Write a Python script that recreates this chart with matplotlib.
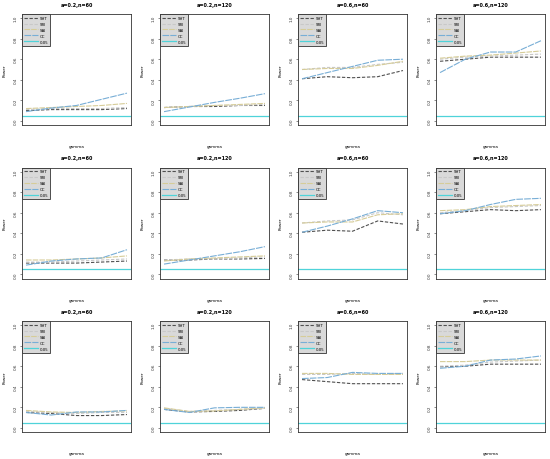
import numpy as np
import matplotlib
matplotlib.use('Agg')
from matplotlib import pyplot as plt

#============================== data ==============================
gamma = [1, 2, 3, 4, 5]
titles = ["a=0.2,n=60", "a=0.2,n=120", "a=0.6,n=60", "a=0.6,n=120"]
methods = ["SHT", "SRI", "SAI", "CC"]
alpha_level = 0.05

# rows of the grid, each with the four panels, each panel: SHT, SRI, SAI, CC
power_row1 = [
    [[0.10, 0.11, 0.11, 0.11, 0.12], [0.11, 0.12, 0.12, 0.12, 0.13],
     [0.12, 0.13, 0.14, 0.15, 0.17], [0.09, 0.125, 0.15, 0.21, 0.27]],
    [[0.13, 0.14, 0.14, 0.15, 0.15], [0.13, 0.14, 0.15, 0.15, 0.16],
     [0.13, 0.14, 0.15, 0.16, 0.17], [0.09, 0.135, 0.18, 0.22, 0.265]],
    [[0.41, 0.43, 0.42, 0.43, 0.49], [0.50, 0.52, 0.52, 0.55, 0.57],
     [0.50, 0.51, 0.51, 0.54, 0.58], [0.41, 0.47, 0.53, 0.59, 0.60]],
    [[0.58, 0.60, 0.62, 0.62, 0.62], [0.60, 0.62, 0.63, 0.64, 0.65],
     [0.61, 0.63, 0.64, 0.66, 0.68], [0.47, 0.60, 0.67, 0.67, 0.78]],
]
power_row2 = [
    [[0.11, 0.11, 0.11, 0.12, 0.13], [0.12, 0.12, 0.13, 0.14, 0.15],
     [0.14, 0.14, 0.15, 0.16, 0.18], [0.09, 0.13, 0.15, 0.16, 0.24]],
    [[0.14, 0.14, 0.15, 0.15, 0.155], [0.14, 0.15, 0.15, 0.16, 0.17],
     [0.13, 0.15, 0.16, 0.17, 0.18], [0.10, 0.14, 0.18, 0.22, 0.27]],
    [[0.41, 0.43, 0.42, 0.52, 0.49], [0.50, 0.52, 0.53, 0.60, 0.58],
     [0.50, 0.51, 0.51, 0.58, 0.59], [0.41, 0.47, 0.54, 0.62, 0.60]],
    [[0.59, 0.61, 0.63, 0.62, 0.63], [0.60, 0.62, 0.65, 0.66, 0.67],
     [0.62, 0.63, 0.66, 0.67, 0.68], [0.59, 0.62, 0.68, 0.73, 0.74]],
]
power_row3 = [
    [[0.15, 0.14, 0.12, 0.12, 0.13], [0.16, 0.15, 0.14, 0.15, 0.15],
     [0.17, 0.155, 0.15, 0.16, 0.165], [0.15, 0.125, 0.155, 0.155, 0.17]],
    [[0.18, 0.155, 0.16, 0.17, 0.19], [0.19, 0.16, 0.17, 0.18, 0.19],
     [0.195, 0.16, 0.165, 0.18, 0.195], [0.18, 0.15, 0.195, 0.20, 0.20]],
    [[0.47, 0.45, 0.43, 0.43, 0.43], [0.52, 0.52, 0.53, 0.52, 0.53],
     [0.53, 0.53, 0.52, 0.52, 0.52], [0.48, 0.49, 0.54, 0.53, 0.53]],
    [[0.595, 0.60, 0.62, 0.62, 0.62], [0.60, 0.61, 0.64, 0.65, 0.66],
     [0.645, 0.645, 0.66, 0.66, 0.66], [0.58, 0.60, 0.66, 0.67, 0.70]],
]
all_rows = [power_row1, power_row2, power_row3]

#============================== style ==============================
colors = ['#505050', '#c8c8c8', '#d6cc98', '#78aed6']
dashes = [(0, (3, 1.5)), (0, (3, 1.5)), (0, (5, 1)), (0, (6, 1))]
ref_color = '#4fd3d9'

W, H = 550, 460
fig = plt.figure(figsize=(W / 100, H / 100), dpi=100)

for r, row in enumerate(all_rows):
    for c, panel in enumerate(row):
        left_px = 22 + 138 * c
        top_px = 15 + 153.5 * r
        ax = fig.add_axes([left_px / W, (H - top_px - 111) / H, 109 / W, 111 / H])

        for m, vals in enumerate(panel):
            ax.plot(gamma, vals, color=colors[m], linestyle=dashes[m], linewidth=0.8, label=methods[m])
        ax.axhline(alpha_level, color=ref_color, linewidth=0.9, label=str(alpha_level))

        ax.set_ylim(-0.04, 1.04)
        ax.set_xlim(gamma[0] - 0.16, gamma[-1] + 0.16)
        ax.set_xticks([])
        ax.set_yticks([0.0, 0.2, 0.4, 0.6, 0.8, 1.0])
        ax.set_yticklabels(["0.0", "0.2", "0.4", "0.6", "0.8", "1.0"])
        ax.tick_params(axis='y', labelsize=3, length=1.5, width=0.4, pad=1.5, colors='#333333')
        for lab in ax.get_yticklabels():
            lab.set_rotation(90)
            lab.set_va('center')
        for sp in ax.spines.values():
            sp.set_linewidth(0.6)
            sp.set_color('#333333')

        ax.set_title(titles[c], fontsize=3.5, fontweight='bold', pad=6)
        ax.set_ylabel("Power", fontsize=3, labelpad=5)
        ax.set_xlabel("gamma", fontsize=3, labelpad=14)

        leg = ax.legend(loc='upper left', fontsize=2.8, frameon=True, fancybox=False,
                        borderaxespad=0.0, handlelength=3.5, handletextpad=0.6,
                        borderpad=0.5, labelspacing=0.5)
        leg.get_frame().set_facecolor('#d9d9d9')
        leg.get_frame().set_edgecolor('#333333')
        leg.get_frame().set_linewidth(0.6)
        leg.get_frame().set_alpha(1)

fig.savefig('out.png', dpi=100)
